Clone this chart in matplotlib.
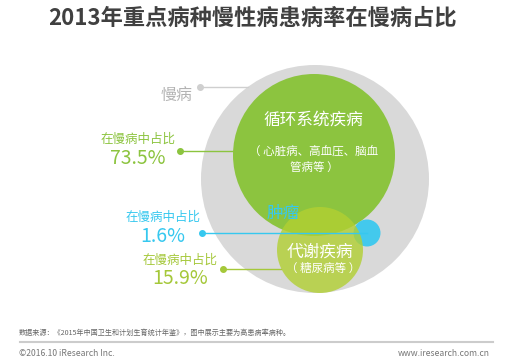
import matplotlib
matplotlib.use('Agg')
import matplotlib.pyplot as plt
from matplotlib.patches import Circle

plt.rcParams['font.family'] = ['Noto Sans CJK SC', 'DejaVu Sans']

TITLE = '2013年重点病种慢性病患病率在慢病占比'
categories = ['循环系统疾病', '肿瘤', '代谢疾病']
subtitles = ['（ 心脏病、高血压、脑血\n管病等 ）', '', '（ 糖尿病等 ）']
shares = [73.5, 1.6, 15.9]
share_label = '在慢病中占比'
total_label = '慢病'
source = '数据来源：《2015年中国卫生和计划生育统计年鉴》，图中展示主要为高患病率病种。'

# colours
GRAY = '#d9d9d9'
GREEN = '#8cc43f'
LIME = '#b2d032'
BLUE = '#36c8ef'
LIME_TXT = '#a5c83a'

fig = plt.figure(figsize=(5.05, 3.63), dpi=100)
ax = fig.add_axes([0, 0, 1, 1])
ax.set_xlim(0, 505)
ax.set_ylim(363, 0)
ax.axis('off')

# circles (pixel layout): centre x, centre y, radius
big = (315, 179, 114)
circ = [(314, 155, 81), (367, 233, 13.5), (320, 250, 43)]
fills = [(GREEN, 1.0), (BLUE, 0.92), (LIME, 0.8)]

ax.add_patch(Circle(big[:2], big[2], color=GRAY, lw=0, zorder=1))
# draw green first, then lime, blue on top
for i in [0, 2, 1]:
    cx, cy, r = circ[i]
    c, a = fills[i]
    ax.add_patch(Circle((cx, cy), r, color=c, alpha=a, lw=0, zorder=2 + i))

# title
ax.text(252, 18, TITLE, ha='center', va='center', fontsize=16,
        fontweight='bold', color='#404040')

# 慢病 label
ax.plot([200, 248], [87, 87], color='#cfcfcf', lw=1, zorder=1.5)
ax.plot(200, 87, 'o', color='#cfcfcf', ms=4, zorder=1.5)
ax.text(176, 95, total_label, ha='center', va='center', fontsize=11.5,
        color='#b3b3b3')

# inside circle texts
ax.text(313, 120, categories[0], ha='center', va='center', fontsize=12,
        color='white', zorder=10)
ax.text(314, 160, subtitles[0], ha='center', va='center', fontsize=8.3,
        color='white', linespacing=1.4, zorder=10)
ax.text(283, 213, categories[1], ha='center', va='center', fontsize=12,
        color=BLUE, zorder=10)
ax.text(320, 252, categories[2], ha='center', va='center', fontsize=12,
        color='white', zorder=10)
ax.text(323, 268, subtitles[2], ha='center', va='center', fontsize=8.3,
        color='white', zorder=10)

# share call-outs: label x, label y, dot x, line y, line end x, colour
callouts = [
    (138, 139, 180, 151, 233, GREEN),
    (163, 217, 202, 233, 367, BLUE),
    (180, 260, 223, 269, 281, LIME_TXT),
]
for (lx, ly, dx, y, ex, col), v in zip(callouts, shares):
    ax.plot([dx, ex], [y, y], color=col, lw=1, zorder=6)
    ax.plot(dx, y, 'o', color=col, ms=4, zorder=6)
    ax.text(lx, ly, share_label, ha='center', va='center', fontsize=9,
            color=col)
    ax.text(lx, ly + 19, f'{v}%', ha='center', va='center', fontsize=14,
            color=col)

# footer
ax.text(19, 333, source, ha='left', va='center', fontsize=5.1, color='#666666')
ax.plot([20, 493], [342, 342], color='#cccccc', lw=1.5)
ax.text(19, 353, '©2016.10 iResearch Inc.', ha='left', va='center',
        fontsize=6.2, color='#777777')
ax.text(490, 353, 'www.iresearch.com.cn', ha='right', va='center',
        fontsize=6.2, color='#777777')

fig.savefig('out.png', dpi=100)
